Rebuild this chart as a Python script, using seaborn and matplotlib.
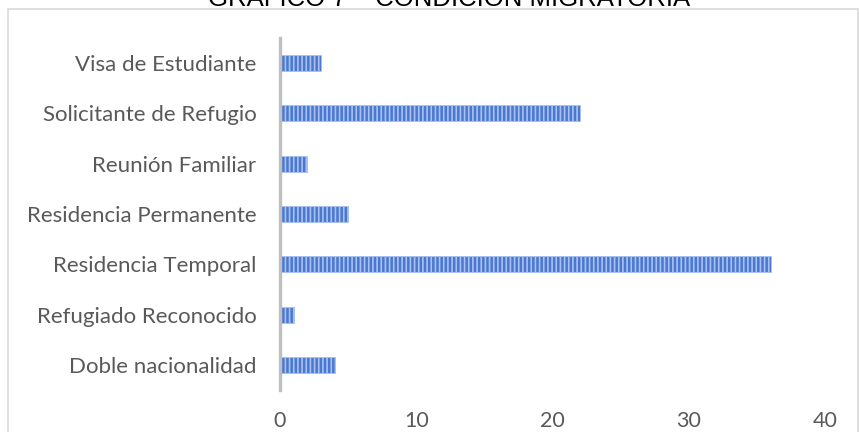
import matplotlib
matplotlib.use("Agg")
import matplotlib.pyplot as plt
import seaborn as sns
import pandas as pd
from matplotlib.patches import Rectangle

categorias = ["Visa de Estudiante", "Solicitante de Refugio", "Reunión Familiar",
              "Residencia Permanente", "Residencia Temporal", "Refugiado Reconocido",
              "Doble nacionalidad"]
valores = [3, 22, 2, 5, 36, 1, 4]
ticks_x = [0, 10, 20, 30, 40]
titulo = "GRÁFICO 7 – CONDICIÓN MIGRATORIA"

df = pd.DataFrame({"categoria": categorias, "valor": valores})

sns.set_style("white")
plt.rcParams["font.family"] = ["Lato", "DejaVu Sans"]
plt.rcParams["hatch.linewidth"] = 1.2

fig = plt.figure(figsize=(8.59, 4.32), dpi=100)
ax = fig.add_axes([280 / 859, 1 - 390 / 432, 545 / 859, 352 / 432])

sns.barplot(data=df, x="valor", y="categoria", orient="h", ax=ax,
            color="#4a78d0", width=0.32, saturation=1,
            edgecolor="#a9c1ee", linewidth=0.6)
for p in ax.patches:
    p.set_hatch("||||")

ax.set_xlim(0, 40)
ax.set_xticks(ticks_x)
ax.set_xlabel("")
ax.set_ylabel("")
for s in ["top", "right", "bottom"]:
    ax.spines[s].set_visible(False)
ax.spines["left"].set_color("#bfbfbf")
ax.spines["left"].set_linewidth(2.4)
ax.tick_params(axis="x", length=0, pad=15, labelsize=15.5, labelcolor="#595959")
ax.tick_params(axis="y", length=0, pad=17, labelsize=16, labelcolor="#595959")

# chart frame
fig.patches.append(Rectangle((8 / 859, -0.1), 850 / 859, 1.1 - 9 / 432,
                             transform=fig.transFigure, fill=False,
                             edgecolor="#d9d9d9", linewidth=1.2))

fig.text(449 / 859, 1 - 5.5 / 432, titulo, ha="center", va="baseline",
         fontsize=18.5, family=["Liberation Sans", "DejaVu Sans"], color="#000000")

fig.savefig("out.png", dpi=100)
